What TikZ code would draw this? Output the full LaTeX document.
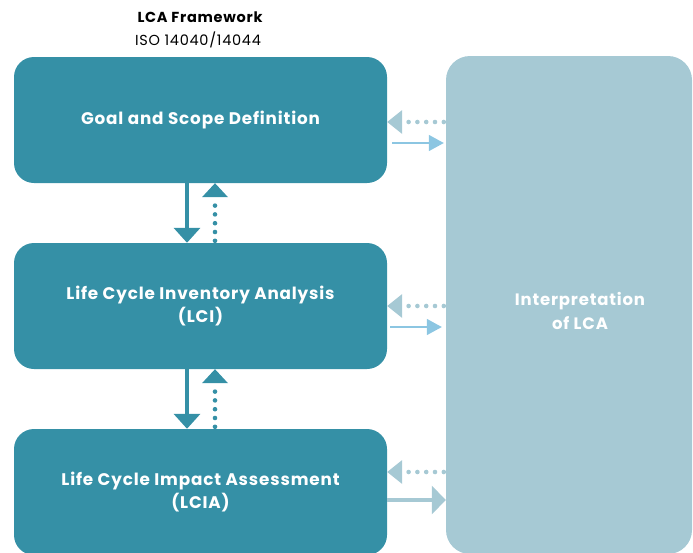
\documentclass[tikz,border=0pt]{standalone}
\usepackage{fontspec}
\setmainfont{Poppins}[LetterSpace=5]
\usetikzlibrary{arrows.meta}

\definecolor{stageteal}{HTML}{3590A6}
\definecolor{panelblue}{HTML}{A6C9D4}
\definecolor{feedblue}{HTML}{8CC6E2}

\tikzset{
  stage/.style={draw=none, fill=stageteal, rounded corners=20pt, minimum width=373pt,
    minimum height=126pt, text=white, font=\bfseries\fontsize{16.8}{23}\selectfont,
    align=center},
  panel/.style={draw=none, fill=panelblue, rounded corners=24pt, minimum width=246pt,
    minimum height=498pt},
  downflow/.style={stageteal, line width=4pt, -{Triangle[width=26pt,length=15pt]}},
  upflow/.style={stageteal, line width=4.6pt, line cap=round, dash pattern=on 0pt off 8.8pt,
    -{Triangle[width=26pt,length=14pt,line width=0pt]}},
  backflow/.style={panelblue, line width=4.6pt, line cap=round, dash pattern=on 0pt off 8.8pt,
    -{Triangle[width=24pt,length=15pt,line width=0pt]}},
  feedflow/.style={feedblue, line width=1.5pt, -{Triangle[width=16pt,length=15pt]}},
}

\begin{document}
\begin{tikzpicture}[x=1pt,y=-1pt]
\useasboundingbox (0,0) rectangle (693,552);

% title
\node (title) at (200,17) {\bfseries\fontsize{14.5}{16}\selectfont LCA Framework};
\node (norm) at (198,40) {\fontsize{14.5}{16}\selectfont ISO 14040/14044};

% the three stages
\node[stage] (goal) at (200.5,120) {Goal and Scope Definition};
\node[stage] (lci) at (200.5,306) {Life Cycle Inventory Analysis\\(LCI)};
\node[stage] (lcia) at (200.5,492) {Life Cycle Impact Assessment\\(LCIA)};

% interpretation panel
\node[panel] (interp) at (569,305) {};
\node[text=white, font=\bfseries\fontsize{16.5}{24}\selectfont, align=center] (interpText)
  at (580,311) {Interpretation\\of LCA};

% stage to stage
\draw[downflow] ([xshift=-13.5pt]goal.south) -- ([xshift=-13.5pt]lci.north);
\draw[upflow] ([xshift=14.5pt]lci.north) ++(0,-2) -- ([xshift=14.5pt]goal.south);
\draw[downflow] ([xshift=-13.5pt]lci.south) -- ([xshift=-13.5pt]lcia.north);
\draw[upflow] ([xshift=14.5pt]lcia.north) ++(0,-2) -- ([xshift=14.5pt]lci.south);

% interpretation links
\draw[backflow] (interp.west |- 0,122) ++(-2,0) -- (goal.east |- 0,122);
\draw[feedflow] ([xshift=5pt]goal.east |- 0,143) -- ([xshift=-2pt]interp.west |- 0,143);
\draw[backflow] (interp.west |- 0,306) ++(-2,0) -- (lci.east |- 0,306);
\draw[feedflow] ([xshift=3pt]lci.east |- 0,327) -- ([xshift=-4pt]interp.west |- 0,327);
\draw[backflow] (interp.west |- 0,472) ++(-2,0) -- (lcia.east |- 0,472);
\draw[panelblue, line width=4pt, -{Triangle[width=28pt,length=14pt]}]
  (lcia.east |- 0,500) -- (interp.west |- 0,500);
\end{tikzpicture}
\end{document}
